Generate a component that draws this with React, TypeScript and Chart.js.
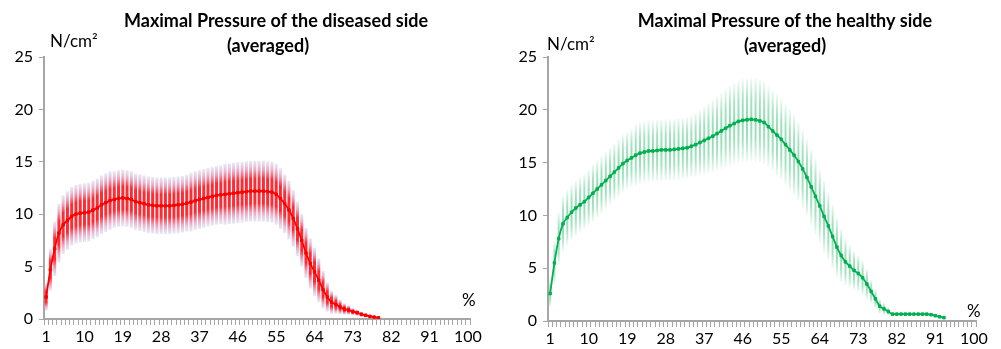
import React, { useEffect, useRef } from "react";
import { Chart, registerables } from "chart.js";

Chart.register(...registerables);

const CATEGORIES: string[] = Array.from({ length: 100 }, (_, i) => String(i + 1));
const TICK_LABELS = ["1", "10", "19", "28", "37", "46", "55", "64", "73", "82", "91", "100"];
const Y_TICKS = [0, 5, 10, 15, 20, 25];

const DISEASED_TITLE = ["Maximal Pressure of the diseased side", "(averaged)"];
const HEALTHY_TITLE = ["Maximal Pressure of the healthy side", "(averaged)"];
const Y_UNIT = "N/cm²";
const X_UNIT = "%";

const DISEASED_MEAN = [
  2.1, 4.7, 6.7, 8.2, 9.0, 9.4, 9.8, 10.0, 10.1, 10.15,
  10.2, 10.4, 10.6, 10.9, 11.1, 11.3, 11.4, 11.5, 11.55, 11.5,
  11.4, 11.2, 11.1, 11.0, 10.9, 10.85, 10.8, 10.8, 10.8, 10.8,
  10.85, 10.9, 10.95, 11.05, 11.15, 11.3, 11.4, 11.5, 11.6, 11.7,
  11.8, 11.85, 11.9, 11.95, 12.0, 12.05, 12.1, 12.15, 12.2, 12.2,
  12.2, 12.2, 12.15, 12.1, 11.9, 11.5, 11.0, 10.4, 9.6, 8.6,
  7.5, 6.3, 5.3, 4.5, 3.7, 2.8, 2.1, 1.6, 1.4, 1.15,
  0.95, 0.85, 0.7, 0.6, 0.45, 0.35, 0.25, 0.18, 0.12,
];
const DISEASED_SD = [
  1.3, 2.0, 2.6, 2.8, 2.8, 2.8, 2.8, 2.8, 2.8, 2.8,
  2.8, 2.8, 2.8, 2.8, 2.8, 2.8, 2.7, 2.7, 2.7, 2.7,
  2.7, 2.7, 2.7, 2.7, 2.7, 2.7, 2.7, 2.7, 2.7, 2.7,
  2.7, 2.7, 2.7, 2.7, 2.8, 2.8, 2.8, 2.8, 2.8, 2.8,
  2.8, 2.8, 2.9, 2.9, 2.9, 2.9, 2.9, 2.9, 2.9, 2.9,
  2.9, 2.9, 2.9, 2.9, 2.9, 2.9, 2.8, 2.8, 2.7, 2.6,
  2.5, 2.4, 2.4, 2.3, 2.1, 1.8, 1.4, 1.1, 0.9, 0.7,
  0.55, 0.45, 0.35, 0.3, 0.25, 0.2, 0.15, 0.1, 0.05,
];

const HEALTHY_MEAN = [
  2.6, 5.5, 7.8, 9.2, 9.8, 10.3, 10.7, 11.0, 11.3, 11.7,
  12.1, 12.5, 12.9, 13.3, 13.7, 14.1, 14.5, 14.9, 15.2, 15.45,
  15.7, 15.9, 16.0, 16.1, 16.1, 16.15, 16.2, 16.2, 16.2, 16.25,
  16.3, 16.35, 16.4, 16.55, 16.7, 16.9, 17.1, 17.3, 17.5, 17.75,
  18.0, 18.25, 18.5, 18.7, 18.9, 19.0, 19.05, 19.1, 19.05, 18.95,
  18.8, 18.4, 18.0, 17.6, 17.2, 16.7, 16.2, 15.7, 15.1, 14.4,
  13.6, 12.7, 11.8, 10.9, 9.9, 9.0, 8.0, 7.0, 6.2, 5.6,
  5.2, 4.8, 4.5, 4.1, 3.5, 2.8, 2.1, 1.4, 1.15, 0.9,
  0.65, 0.65, 0.65, 0.65, 0.65, 0.65, 0.65, 0.65, 0.65, 0.6,
  0.5, 0.4, 0.32,
];
const HEALTHY_SD = [
  1.2, 2.0, 2.5, 2.6, 2.6, 2.6, 2.6, 2.6, 2.6, 2.6,
  2.7, 2.7, 2.7, 2.7, 2.7, 2.7, 2.7, 2.7, 2.7, 2.7,
  2.9, 2.9, 2.9, 2.9, 2.9, 2.9, 2.9, 2.9, 2.9, 2.9,
  2.9, 2.9, 2.9, 2.9, 3.0, 3.1, 3.2, 3.3, 3.4, 3.5,
  3.6, 3.7, 3.8, 3.8, 3.9, 3.9, 3.9, 3.9, 3.9, 3.9,
  3.9, 3.8, 3.8, 3.8, 3.8, 3.8, 3.8, 3.8, 3.7, 3.7,
  3.6, 3.6, 3.6, 3.5, 3.4, 3.2, 3.0, 2.8, 2.5, 2.2,
  2.0, 1.8, 1.7, 1.6, 1.4, 1.1, 0.9, 0.7, 0.55, 0.4,
  0.2, 0.1, 0.1, 0.1, 0.1, 0.1, 0.1, 0.1, 0.1, 0.1,
  0.1, 0.1, 0.1,
];

type Stop = [number, string];

type PanelProps = {
  title: string[];
  mean: number[];
  sd: number[];
  lineColor: string;
  barStops: Stop[];
  barWidth: number;
  width: number;
  left: number;
  yAxisWidth: number;
  xAxisHeight: number;
  padRight: number;
  padTop: number;
  titleX: number[];
  titleY: number[];
  unitPos: [number, number];
  pctPos: [number, number];
};

const FONT = "Lato, 'Open Sans', sans-serif";
const AXIS_COLOR = "#a6a6a6";

function Panel(p: PanelProps) {
  const ref = useRef<HTMLCanvasElement | null>(null);
  useEffect(() => {
    if (!ref.current) return;
    const errorBars = {
      id: "errorBars",
      beforeDatasetsDraw(chart: any) {
        const ctx = chart.ctx;
        const meta = chart.getDatasetMeta(0);
        const ys = chart.scales.y;
        const area = chart.chartArea;
        ctx.save();
        ctx.beginPath();
        ctx.rect(area.left, area.top, area.right - area.left, area.bottom - area.top);
        ctx.clip();
        meta.data.forEach((pt: any, i: number) => {
          const m = p.mean[i];
          const s = p.sd[i];
          const yt = ys.getPixelForValue(m + s);
          const yb = ys.getPixelForValue(m - s);
          if (yb - yt < 1) return;
          const g = ctx.createLinearGradient(0, yt, 0, yb);
          p.barStops.forEach(([o, c]) => g.addColorStop(o, c));
          ctx.strokeStyle = g;
          ctx.lineWidth = p.barWidth;
          ctx.beginPath();
          ctx.moveTo(pt.x, yt);
          ctx.lineTo(pt.x, yb);
          ctx.stroke();
        });
        ctx.restore();
      },
    };
    const texts = {
      id: "texts",
      afterDraw(chart: any) {
        const ctx = chart.ctx;
        ctx.save();
        ctx.fillStyle = "#000";
        ctx.textBaseline = "alphabetic";
        ctx.textAlign = "center";
        ctx.font = `bold 18px ${FONT}`;
        p.title.forEach((t, i) => ctx.fillText(t, p.titleX[i], p.titleY[i]));
        ctx.textAlign = "left";
        ctx.font = `17px ${FONT}`;
        ctx.fillText(Y_UNIT, p.unitPos[0], p.unitPos[1]);
        ctx.fillText(X_UNIT, p.pctPos[0], p.pctPos[1]);
        ctx.restore();
      },
    };
    const chart = new Chart(ref.current, {
      type: "line",
      data: {
        labels: CATEGORIES,
        datasets: [
          {
            data: p.mean,
            borderColor: p.lineColor,
            backgroundColor: p.lineColor,
            borderWidth: 1.8,
            cubicInterpolationMode: "monotone",
            pointStyle: "rect",
            pointRadius: 1.8,
            pointBorderWidth: 1,
            pointBorderColor: p.lineColor,
            fill: false,
          },
        ],
      },
      options: {
        responsive: false,
        animation: false,
        layout: { padding: { top: p.padTop, right: p.padRight, left: 0, bottom: 0 } },
        plugins: { legend: { display: false }, tooltip: { enabled: false }, title: { display: false } },
        scales: {
          x: {
            type: "category",
            offset: true,
            grid: { offset: true, drawOnChartArea: false, drawTicks: true, tickLength: 6, color: AXIS_COLOR, lineWidth: 1 },
            border: { display: true, color: AXIS_COLOR, width: 2 },
            ticks: {
              autoSkip: false,
              maxRotation: 0,
              minRotation: 0,
              padding: 2,
              color: "#000",
              font: { family: FONT, size: 16 },
              callback: (v: any, idx: number) => {
                const l = CATEGORIES[idx];
                return TICK_LABELS.includes(l) ? l : "";
              },
            },
            afterFit: (s: any) => {
              s.height = p.xAxisHeight;
            },
          },
          y: {
            min: 0,
            max: 25,
            afterBuildTicks: (s: any) => {
              s.ticks = Y_TICKS.map((v) => ({ value: v }));
            },
            grid: { drawOnChartArea: false, drawTicks: true, tickLength: 5, color: AXIS_COLOR, lineWidth: 1 },
            border: { display: true, color: AXIS_COLOR, width: 2 },
            ticks: { padding: 6, color: "#000", font: { family: FONT, size: 16 } },
            afterFit: (s: any) => {
              s.width = p.yAxisWidth;
            },
          },
        },
      },
      plugins: [errorBars, texts],
    } as any);
    return () => chart.destroy();
  }, []);
  return (
    <canvas
      ref={ref}
      width={p.width}
      height={349}
      style={{ position: "absolute", left: p.left, top: 0, width: p.width, height: 349, display: "block" }}
    />
  );
}

const RED_STOPS: Stop[] = [
  [0, "rgba(200,200,232,0.4)"],
  [0.15, "rgba(232,140,175,0.8)"],
  [0.3, "rgba(255,20,30,0.9)"],
  [0.7, "rgba(255,20,30,0.9)"],
  [0.85, "rgba(232,140,175,0.8)"],
  [1, "rgba(200,200,232,0.4)"],
];
const GREEN_STOPS: Stop[] = [
  [0, "rgba(0,176,80,0.05)"],
  [0.25, "rgba(0,176,80,0.35)"],
  [0.5, "rgba(0,176,80,0.45)"],
  [0.75, "rgba(0,176,80,0.35)"],
  [1, "rgba(0,176,80,0.05)"],
];

export default function App() {
  return (
    <div style={{ position: "absolute", left: 0, top: 0, width: 1001, height: 349, background: "#fff", overflow: "hidden" }}>
      <Panel
        title={DISEASED_TITLE}
        mean={DISEASED_MEAN}
        sd={DISEASED_SD}
        lineColor="#ff0000"
        barStops={RED_STOPS}
        barWidth={3}
        width={500}
        left={0}
        yAxisWidth={44}
        xAxisHeight={30}
        padRight={30}
        padTop={57}
        titleX={[276, 268]}
        titleY={[27, 52]}
        unitPos={[50, 47]}
        pctPos={[462, 306]}
      />
      <Panel
        title={HEALTHY_TITLE}
        mean={HEALTHY_MEAN}
        sd={HEALTHY_SD}
        lineColor="#00b050"
        barStops={GREEN_STOPS}
        barWidth={2}
        width={501}
        left={500}
        yAxisWidth={48}
        xAxisHeight={28}
        padRight={25}
        padTop={57}
        titleX={[285, 285]}
        titleY={[27, 52]}
        unitPos={[47, 50]}
        pctPos={[467, 317]}
      />
    </div>
  );
}
